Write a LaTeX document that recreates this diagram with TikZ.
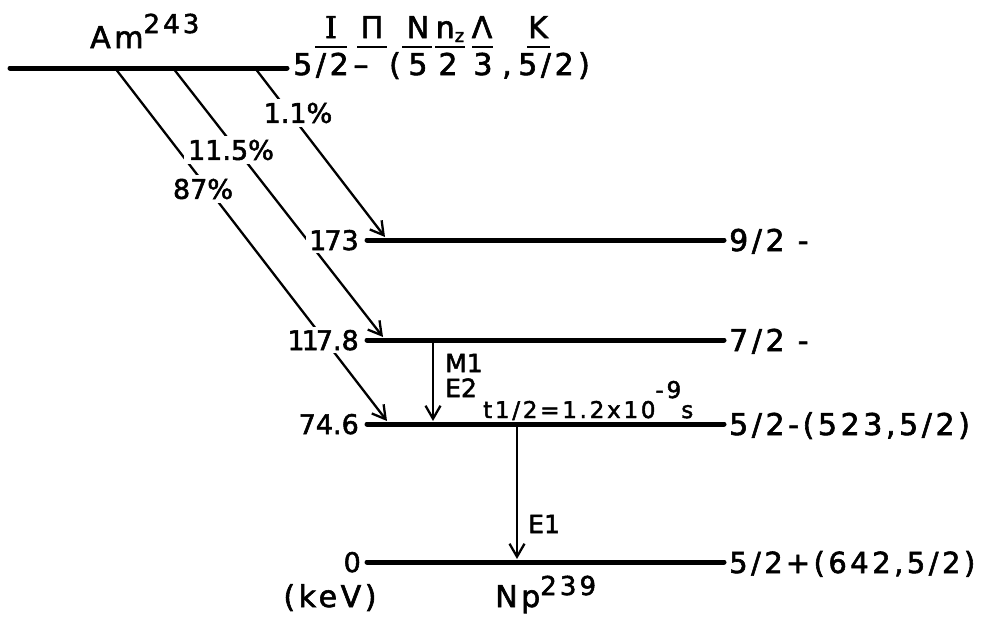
\documentclass[tikz,border=0pt]{standalone}
\usepackage{fontspec}
\setmainfont{DejaVu Sans}[LetterSpace=12,FakeBold=2]
\newfontfamily\tightfont{DejaVu Sans}[FakeBold=2]
\newfontfamily\serifIfont{DejaVu Serif}[FakeBold=2]
\usetikzlibrary{arrows.meta}
\begin{document}
\begin{tikzpicture}[x=1pt,y=-1pt,
  level/.style={line width=5pt,line cap=round},
  decay/.style={line width=2.3pt,-{Straight Barb[length=13pt,width=15pt]}},
  big/.style={inner sep=0pt,font=\fontsize{30}{36}\selectfont},
  mid/.style={inner sep=0pt,font=\fontsize{23}{28}\selectfont},
  pct/.style={fill=white,inner sep=4pt,font=\tightfont\fontsize{27}{32}\selectfont},
  elab/.style={fill=white,inner sep=3pt,anchor=base east,font=\tightfont\fontsize{27}{32}\selectfont},
  mult/.style={inner sep=0pt,anchor=base west,font=\tightfont\fontsize{25}{30}\selectfont},
  ul/.style={line width=2pt}]
\useasboundingbox (0,0) rectangle (984,616);

% level end points
\coordinate (topW) at (10,68);   \coordinate (topE) at (287,68);
\coordinate (aW) at (367,240);   \coordinate (aE) at (724,240);
\coordinate (bW) at (367,340);   \coordinate (bE) at (724,340);
\coordinate (cW) at (367,424);   \coordinate (cE) at (724,424);
\coordinate (dW) at (367,562);   \coordinate (dE) at (724,562);

% decay start / end points
\coordinate (s87) at (115,68);  \coordinate (t87) at (387,421);
\coordinate (s115) at (173,68); \coordinate (t115) at (383,337);
\coordinate (s11) at (255,68);  \coordinate (t11) at (385,237);
\coordinate (mS) at (433,340);  \coordinate (mT) at (433,421);
\coordinate (eS) at (517,424);  \coordinate (eT) at (517,559);

% levels
\draw[level] (topW) -- (topE);
\draw[level] (aW) -- (aE);
\draw[level] (bW) -- (bE);
\draw[level] (cW) -- (cE);
\draw[level] (dW) -- (dE);

% decays and transitions
\draw[decay] (s87) -- (t87);
\draw[decay] (s115) -- (t115);
\draw[decay] (s11) -- (t11);
\draw[decay] (mS) -- (mT);
\draw[decay] (eS) -- (eT);

% branching labels (break the lines)
\node[pct] (p11) at (298,113) {1.1\%};
\node[pct] (p115) at (231,150) {11.5\%};
\node[pct] (p87) at (203,189) {87\%};

% energies
\node[elab] (ea) at (362,250) {1\kern-2pt 73};
\node[elab] (eb) at (362,350) {1\kern-3pt 1\kern-3pt 7.8};
\node[elab] (ec) at (362,434) {74.6};
\node[elab] (ed) at (364,572) {0};
\node[big,anchor=base] (kev) at (330,607) {(keV)};

% spins
\node[big,anchor=base west] (ra) at (729,251) {9/2 -};
\node[big,anchor=base west] (rb) at (729,351) {7/2 -};
\node[big,anchor=base west] (rc) at (729,435) {5/2-(523,5/2)};
\node[big,anchor=base west,font=\fontsize{29}{34}\selectfont] (rd) at (729,573) {5/2\kern3pt+(642,5/2)};

% nuclei
\node[big,anchor=base west] (am) at (90,48) {Am\raisebox{15pt}{\fontsize{26}{30}\selectfont 243}};
\node[big,anchor=base west] (np) at (495,607) {Np\raisebox{12pt}{\fontsize{26}{30}\selectfont 239}};

% multipolarities
\node[mult] (m1) at (445,372) {M1};
\node[mult] (e2) at (445,397) {E2};
\node[mult] (e1) at (528,533) {E1};
\node[mid,anchor=base west] (thalf) at (483,418) {t1/2=1.2x10\raisebox{20pt}{-9}s};

% header: quantum numbers
\node[big,anchor=base] (hI) at (331,38) {\serifIfont I};
\node[big,anchor=base] (hP) at (372,38) {Π};
\node[big,anchor=base] (hN) at (418,38) {N};
\node[big,anchor=base] (hn) at (450,38) {n\raisebox{-4pt}{\fontsize{18}{20}\selectfont z}};
\node[big,anchor=base] (hL) at (482,38) {Λ};
\node[big,anchor=base] (hK) at (538,38) {K};
\draw[ul] (315,47) -- (347,47);
\draw[ul] (357,47) -- (387,47);
\draw[ul] (402,47) -- (432,47);
\draw[ul] (435,47) -- (465,47);
\draw[ul] (472,47) -- (493,47);
\draw[ul] (527,47) -- (550,47);

\node[big,anchor=base] (v1) at (321,75) {5/2};
\node[big,anchor=base] (v2) at (361,75) {–};
\node[big,anchor=base] (v3) at (395,75) {(};
\node[big,anchor=base] (v4) at (418,75) {5};
\node[big,anchor=base] (v5) at (448,75) {2};
\node[big,anchor=base] (v6) at (483,75) {3};
\node[big,anchor=base] (v7) at (507,75) {,};
\node[big,anchor=base] (v8) at (546,75) {5/2};
\node[big,anchor=base] (v9) at (584,75) {)};
\end{tikzpicture}
\end{document}
